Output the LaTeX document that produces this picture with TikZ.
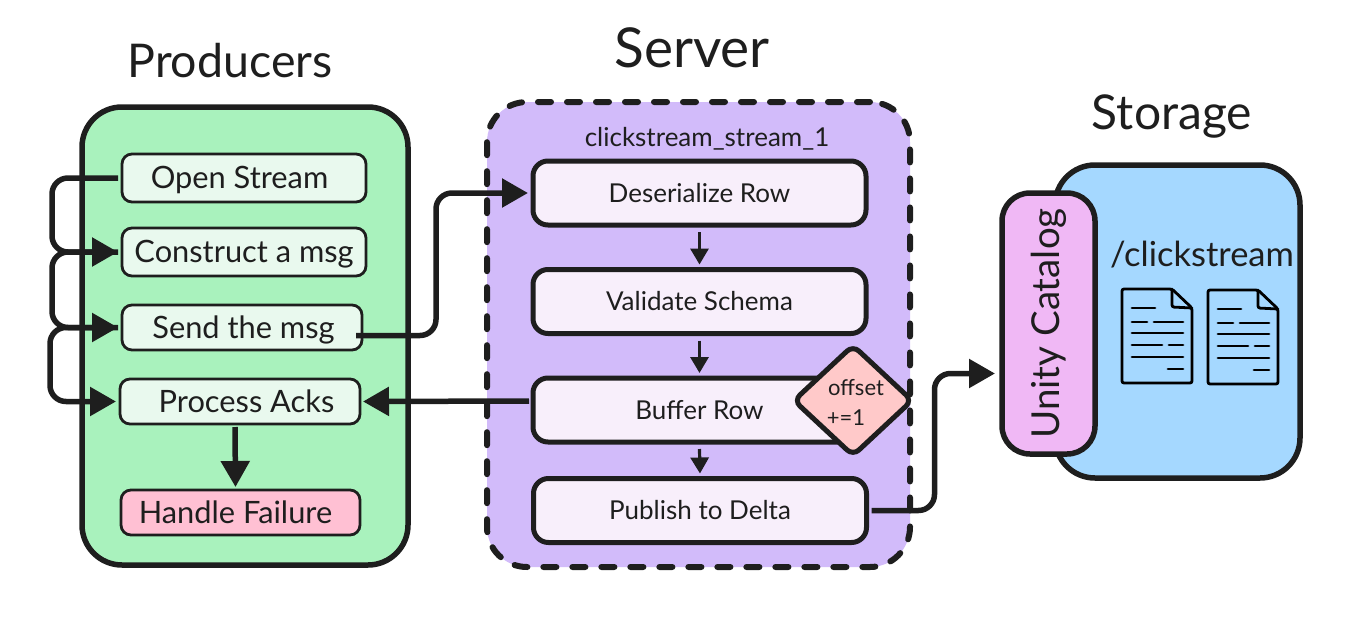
\documentclass[tikz,border=0pt]{standalone}
\usepackage{fontspec}
\setmainfont{Lato}
\usetikzlibrary{positioning,shapes,arrows.meta}
\definecolor{inkc}{HTML}{1E1E1E}
\definecolor{greenc}{HTML}{A9F2BD}
\definecolor{mintc}{HTML}{E9F9EE}
\definecolor{pinkc}{HTML}{FFC0D3}
\definecolor{purplec}{HTML}{D2BBFA}
\definecolor{lilacc}{HTML}{F8EFFB}
\definecolor{salmonc}{HTML}{FFC9C9}
\definecolor{bluec}{HTML}{A5D8FF}
\definecolor{orchidc}{HTML}{F0B8F5}
\newcommand{\fsz}[1]{\fontsize{#1}{#1}\selectfont}

\begin{document}
\begin{tikzpicture}[x=1pt,y=-1pt]
\tikzstyle{every node}+=[inner sep=0pt,outer sep=0pt,text=inkc]
\tikzstyle{title}=[font=\fsz{46.5}]
\tikzstyle{group}=[draw=inkc,line width=5.5pt,rounded corners=40pt]
\tikzstyle{prodbox}=[draw=inkc,line width=2.8pt,rounded corners=10pt,fill=mintc,text height=28pt,text depth=7pt,font=\fsz{30.8}]
\tikzstyle{servbox}=[draw=inkc,line width=5pt,rounded corners=15pt,fill=lilacc,minimum width=333pt,minimum height=64pt,text height=24pt,text depth=6pt,font=\fsz{26}]
\tikzstyle{bigarrow}=[draw=inkc,line width=5.5pt,rounded corners=16pt,-{Triangle[length=26pt,width=28pt]}]
\tikzstyle{smallarrow}=[draw=inkc,line width=3.2pt,-{Triangle[length=16pt,width=18pt]}]
\useasboundingbox (0,0) rectangle (1369,619);

\node [title] (producers) at (230,61) {Producers};
\node [title,font=\fsz{55}] (server) at (692,48) {Server};
\node [title,font=\fsz{48}] (storage) at (1172,116) {Storage};

\node [group,fill=greenc,minimum width=326pt,minimum height=458pt] (prodgroup) at (245,336) {};
\node [prodbox,minimum width=244pt,minimum height=48pt] (open) at (244,178) {Open Stream\kern9pt};
\node [prodbox,minimum width=244pt,minimum height=48pt] (construct) at (244,252) {Construct a msg};
\node [prodbox,minimum width=240pt,minimum height=45pt] (send) at (242,327.5) {\kern3pt Send the msg};
\node [prodbox,minimum width=240pt,minimum height=45pt] (acks) at (240,401.5) {\kern13pt Process Acks};
\node [prodbox,fill=pinkc,minimum width=239pt,minimum height=45pt] (failure) at (240.5,512.5) {Handle Failure\kern10pt};

\node [group,fill=purplec,line width=6pt,dash pattern=on 13pt off 16pt,line cap=round,minimum width=423pt,minimum height=465pt] (servgroup) at (698.5,334.5) {};
\node [font=\fsz{26}] (streamname) at (707,139) {clickstream\_stream\_1};
\node [servbox] (deser) at (699.5,193) {Deserialize Row};
\node [servbox] (validate) at (699.5,301.5) {Validate Schema};
\node [servbox] (buffer) at (699.5,410) {Buffer Row};
\node [servbox] (publish) at (700,510.5) {Publish to Delta};
\node [diamond,draw=inkc,line width=5pt,rounded corners=8pt,fill=salmonc,aspect=1.07,minimum width=118pt,minimum height=110pt] (offset) at (853,400.5) {};
\node [font=\fsz{22}] (offsetup) at (856,388) {offset};
\node [font=\fsz{22}] (offsetdown) at (846,418) {+=1};

\node [group,fill=bluec,minimum width=245pt,minimum height=313pt] (storagebox) at (1177.5,321.5) {};
\node [rotate=90,draw=inkc,line width=5.5pt,rounded corners=28pt,fill=orchidc,minimum width=261pt,minimum height=93pt,font=\fsz{38.5}] (unity) at (1048.5,323.5) {Unity Catalog};
\node [font=\fsz{34.5}] (folder) at (1202,255) {/clickstream};

\foreach \docx/\docy in {1122/289,1208/290}
{
\begin{scope}[shift={(\docx,\docy)},line width=2.8pt,line cap=round]
\draw [black,rounded corners=2pt] (0,0) -- (50,0) -- (70,19) -- (70,94) -- (0,94) -- cycle;
\draw [black,rounded corners=2pt] (50,0) -- (50,18) -- (70,19);
\draw [black] (10,19) -- (33,19);
\draw [black] (10,33) -- (25,33);
\draw [black] (32,33) -- (61,33);
\draw [black] (10,44) -- (61,44);
\draw [black] (10,56) -- (40,56);
\draw [black] (47,56) -- (61,56);
\draw [black] (10,68) -- (61,68);
\draw [black] (46,80) -- (61,80);
\end{scope}
}

\draw [bigarrow,shorten >=4pt,shorten <=4pt] (open.west) -- ++(-70,0) |- (construct.west);
\draw [bigarrow,shorten >=4pt,shorten <=4pt] (construct.west) -- ++(-70,0) |- (send.west);
\draw [bigarrow,shorten >=4pt,shorten <=4pt] (send.west) -- ++(-72,0) |- (acks.west);
\draw [bigarrow] ([xshift=-6pt,yshift=-8pt]send.east) -- ++(80,0) |- ([xshift=-5pt]deser.west);
\draw [bigarrow,rounded corners=0pt] ([xshift=-4pt,yshift=9pt]buffer.west) -- ([xshift=3pt,yshift=0pt]acks.east);
\draw [bigarrow,rounded corners=0pt] ([xshift=-5pt,yshift=-3pt]acks.south) -- ([xshift=-5pt,yshift=3pt]failure.north);
\draw [bigarrow] ([xshift=5pt]publish.east) -- ++(63,0) |- ([xshift=-7pt,yshift=-50pt]unity.north);
\draw [smallarrow] ([yshift=-7pt]deser.south) -- ([yshift=5pt]validate.north);
\draw [smallarrow] ([yshift=-7pt]validate.south) -- ([yshift=5pt]buffer.north);
\draw [smallarrow] ([yshift=-7pt]buffer.south) -- ([yshift=5pt]publish.north);
\end{tikzpicture}
\end{document}
